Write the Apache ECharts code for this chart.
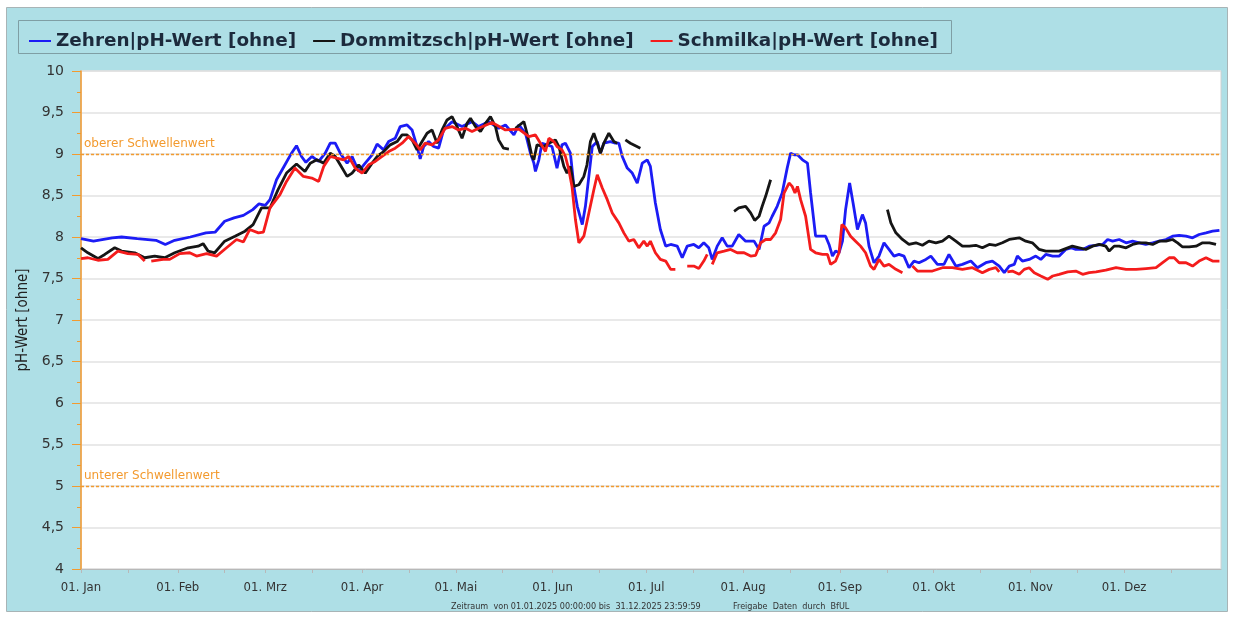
<!DOCTYPE html>
<html>
<head>
<meta charset="utf-8">
<script src="https://cdn.jsdelivr.net/npm/echarts@6/dist/echarts.min.js"></script>
<style>
  html, body { margin: 0; padding: 0; background: #ffffff; }
  #chart { width: 1233px; height: 619px; }
</style>
</head>
<body>
<div id="chart"></div>
<script>
// day of year 2025 (0 = 01. Jan), pH value; null = gap in measurement
const zehren = [[0,7.98],[4,7.95],[10,7.99],[13,8.0],[18,7.98],[24,7.96],[27,7.91],[30,7.96],[35,8.0],[40,8.05],[43,8.06],[46,8.19],[49,8.23],[52,8.26],[55,8.33],[57,8.4],[59,8.38],[60.5,8.45],[62.6,8.69],[65,8.85],[67.4,9.01],[69,9.1],[70.6,8.97],[72,8.9],[73.9,8.97],[76.1,8.91],[78.2,9.01],[79.8,9.13],[81.4,9.13],[83,9.01],[85.2,8.89],[86.8,8.97],[88.9,8.79],[91,8.89],[93.2,8.99],[94.8,9.12],[96.9,9.05],[98.5,9.15],[100.6,9.19],[102.2,9.33],[104.4,9.35],[106,9.29],[107.6,9.09],[108.6,8.94],[109.7,9.09],[111.3,9.15],[112.9,9.09],[114.5,9.07],[116.1,9.29],[118.8,9.39],[122,9.33],[125.2,9.39],[127.3,9.33],[130.5,9.39],[133.7,9.31],[135.9,9.35],[138.6,9.23],[140.2,9.35],[142.3,9.25],[143.9,9.01],[145,8.89],[145.5,8.79],[146.6,8.93],[147.6,9.13],[149.2,9.11],[150.8,9.09],[152.4,8.83],[154,9.11],[155.1,9.13],[156.7,9.01],[157.8,8.61],[158.9,8.37],[160.5,8.15],[161.5,8.37],[162.6,8.73],[163.7,9.09],[165.3,9.15],[166.3,9.01],[167.4,9.13],[169.5,9.15],[171.1,9.13],[172.2,9.13],[173.3,8.97],[174.9,8.83],[176.5,8.77],[178.1,8.65],[179.7,8.89],[181.3,8.93],[182.3,8.85],[183.9,8.41],[185.5,8.09],[187.2,7.89],[188.8,7.91],[190.9,7.89],[192.5,7.75],[194.1,7.89],[196.2,7.91],[197.8,7.87],[199.4,7.93],[201,7.87],[202.1,7.73],[203.7,7.89],[205.3,7.99],[206.9,7.89],[208.5,7.89],[210.6,8.03],[212.8,7.95],[215.5,7.95],[217.1,7.85],[218.7,8.13],[220.3,8.17],[221.3,8.25],[222.9,8.37],[224.5,8.53],[226.1,8.83],[227.2,9.01],[228.3,8.99],[229.4,8.99],[231,8.93],[232.6,8.89],[233.6,8.53],[235.2,8.01],[236.8,8.01],[238.4,8.01],[239.5,7.91],[240.6,7.77],[241.6,7.83],[242.7,7.81],[243.8,7.95],[244.8,8.33],[246.1,8.65],[247.2,8.41],[248.6,8.09],[250.2,8.27],[251.2,8.17],[252.3,7.89],[253.9,7.69],[255.5,7.77],[257.1,7.93],[258.7,7.85],[260.3,7.77],[261.9,7.79],[263.5,7.77],[265.1,7.63],[266.7,7.71],[268.3,7.69],[270.5,7.73],[272.1,7.77],[274.2,7.67],[276.3,7.67],[277.9,7.79],[280.1,7.65],[282.2,7.67],[284.9,7.71],[287,7.63],[289.7,7.69],[291.8,7.71],[294,7.65],[295.6,7.57],[297.2,7.65],[298.8,7.67],[299.8,7.77],[301.4,7.71],[303.6,7.73],[305.7,7.77],[307.3,7.73],[308.9,7.79],[311.1,7.77],[313.2,7.77],[315.3,7.85],[317,7.87],[318.5,7.85],[320.7,7.85],[322.8,7.89],[325,7.9],[327.1,7.91],[328.7,7.97],[330.3,7.95],[332.4,7.97],[334.6,7.93],[336.7,7.95],[338.8,7.93],[340.9,7.91],[343.1,7.93],[345.2,7.95],[347.4,7.97],[349.5,8.01],[351.6,8.02],[353.8,8.01],[355.9,7.99],[358,8.03],[360.2,8.05],[362.3,8.07],[364.5,8.08]];

const dommitzsch = [[0,7.87],[2.2,7.81],[5.4,7.74],[7.6,7.79],[10.8,7.87],[13,7.83],[17.2,7.81],[20.4,7.75],[23.6,7.77],[26.8,7.75],[30,7.81],[34.3,7.87],[37.5,7.89],[39.1,7.92],[40.7,7.83],[42.8,7.81],[46,7.95],[49.3,8.01],[52.5,8.07],[55.1,8.15],[57.8,8.35],[60.5,8.35],[63.1,8.57],[65.8,8.77],[69,8.88],[71.7,8.79],[73.4,8.89],[75.5,8.93],[77.7,8.89],[79.8,9.01],[81.4,8.97],[83,8.87],[85.2,8.73],[86.8,8.77],[88.9,8.87],[91,8.77],[93.2,8.89],[94.8,8.97],[96.9,9.03],[99,9.11],[101.2,9.15],[102.8,9.23],[104.4,9.23],[106,9.17],[107.6,9.05],[109.2,9.15],[110.8,9.25],[112.4,9.29],[114,9.13],[115.6,9.29],[117.2,9.41],[118.8,9.45],[120.4,9.33],[122,9.19],[123.6,9.37],[124.7,9.43],[126.3,9.33],[127.9,9.27],[129.5,9.37],[131.1,9.45],[132.7,9.33],[133.7,9.17],[135.3,9.07],[137,9.06],[138,null],[139.1,9.31],[141.8,9.39],[142.8,9.25],[144.4,8.97],[145,8.93],[146,9.11],[148.2,9.09],[149.8,9.13],[151.9,9.17],[153,9.09],[154.6,8.85],[155.6,8.77],[156.7,8.85],[157.8,8.61],[159.4,8.63],[161,8.73],[162,8.87],[163.1,9.15],[164.2,9.25],[165.3,9.13],[166.3,9.01],[167.4,9.13],[169,9.25],[170.6,9.15],[171.7,9.13],[173,null],[174.3,9.17],[175.9,9.13],[177.5,9.1],[179.1,9.07],[190,null],[209.1,8.31],[210.6,8.35],[212.8,8.37],[214.4,8.29],[215.7,8.2],[217.1,8.25],[218.1,8.37],[219.2,8.49],[220.8,8.69],[230,null],[258.2,8.33],[259.3,8.17],[260.9,8.05],[263,7.97],[265.1,7.91],[267.3,7.93],[269.4,7.9],[271.5,7.95],[273.7,7.93],[275.8,7.95],[277.9,8.01],[280.1,7.95],[282.2,7.89],[284.4,7.89],[286.5,7.9],[288.6,7.87],[290.8,7.91],[292.9,7.9],[295,7.93],[297.2,7.97],[300.4,7.99],[302.5,7.95],[304.6,7.93],[306.8,7.85],[308.9,7.83],[311.1,7.83],[313.2,7.83],[315.3,7.86],[317.4,7.89],[319.6,7.87],[321.7,7.85],[323.9,7.89],[326,7.91],[328.1,7.89],[329.2,7.83],[330.8,7.89],[332.4,7.89],[334.6,7.87],[336.7,7.91],[338.8,7.93],[340.9,7.93],[343.1,7.91],[345.2,7.95],[347.4,7.95],[349.5,7.97],[351.1,7.93],[352.7,7.88],[354.8,7.88],[357,7.89],[359.1,7.93],[361.3,7.93],[363.4,7.91]];

const schmilka = [[0,7.74],[2.2,7.75],[5.4,7.72],[8.6,7.73],[11.8,7.83],[15,7.8],[18.3,7.79],[20.4,7.71],[21.4,null],[22.5,7.71],[26.3,7.73],[28.4,7.73],[31.6,7.8],[34.8,7.81],[37,7.77],[40.2,7.8],[43.4,7.77],[46.6,7.87],[49.8,7.97],[52,7.94],[54,8.09],[56.8,8.05],[58.4,8.06],[60.5,8.35],[63.7,8.51],[65.8,8.67],[68.5,8.83],[71.2,8.73],[73.9,8.71],[76.1,8.67],[77.7,8.85],[79.8,8.97],[81.9,8.95],[84.1,8.93],[85.7,8.97],[87.8,8.83],[90,8.77],[92.1,8.87],[94.2,8.91],[96.4,8.97],[98.5,9.03],[100.6,9.07],[102.8,9.13],[104.9,9.21],[107,9.13],[108.6,9.05],[110.2,9.13],[112.4,9.11],[114.5,9.17],[116.6,9.31],[118.8,9.33],[120.9,9.29],[123.1,9.31],[125.2,9.27],[127.3,9.31],[131.6,9.38],[135.9,9.29],[140.2,9.3],[143.4,9.21],[145.5,9.23],[147.1,9.13],[148.7,9.03],[149.8,9.19],[151.4,9.15],[152.4,9.09],[154,9.05],[155.1,8.97],[156.2,8.81],[157.2,8.61],[158.3,8.21],[159.4,7.93],[161,8.01],[162.6,8.29],[164.2,8.57],[165.3,8.75],[166.9,8.59],[168.5,8.45],[170.1,8.29],[172.2,8.17],[173.8,8.05],[175.4,7.95],[177,7.97],[178.6,7.87],[180.2,7.95],[181.3,7.89],[182.3,7.95],[183.9,7.81],[185.5,7.73],[187.2,7.71],[188.8,7.61],[190.3,7.61],[192,null],[194.1,7.65],[196.2,7.65],[197.8,7.62],[199.4,7.71],[200.5,7.79],[201.3,null],[202.1,7.67],[203.7,7.81],[205.9,7.83],[208,7.85],[210.1,7.81],[212.3,7.81],[214.4,7.77],[216,7.78],[217.6,7.93],[219.2,7.97],[220.8,7.97],[222.4,8.05],[224,8.21],[225.1,8.53],[226.7,8.65],[227.7,8.61],[228.6,8.53],[229.4,8.61],[230.4,8.45],[232,8.25],[233.6,7.85],[235.2,7.81],[237.4,7.79],[239,7.79],[240,7.67],[241.6,7.71],[242.7,7.81],[243.6,8.15],[244.8,8.11],[246.4,8.01],[248,7.95],[249.6,7.89],[251.2,7.81],[252.8,7.65],[253.9,7.61],[255.5,7.73],[257.1,7.65],[258.7,7.67],[260.9,7.61],[263,7.57],[264.5,null],[266.2,7.65],[267.8,7.59],[269.4,7.59],[272.6,7.59],[275.8,7.63],[279,7.63],[282.2,7.61],[285.4,7.63],[288.6,7.57],[290.8,7.61],[292.9,7.63],[294,7.58],[295.2,null],[296.6,7.58],[298.2,7.59],[300.4,7.55],[302,7.61],[303.6,7.63],[305.2,7.57],[307.3,7.53],[309.5,7.49],[311.1,7.53],[313.2,7.55],[315.9,7.58],[318.5,7.59],[320.7,7.55],[322.8,7.57],[325,7.58],[328.1,7.6],[331.4,7.63],[334.6,7.61],[337.8,7.61],[341,7.62],[344.2,7.63],[346.3,7.69],[348.4,7.75],[350,7.75],[351.6,7.69],[353.8,7.69],[355.9,7.65],[358,7.71],[360.2,7.75],[362.3,7.71],[364.5,7.71]];

const monthStarts = [0, 31, 59, 90, 120, 151, 181, 212, 243, 273, 304, 334];
const monthLabels = ['01. Jan', '01. Feb', '01. Mrz', '01. Apr', '01. Mai', '01. Jun',
  '01. Jul', '01. Aug', '01. Sep', '01. Okt', '01. Nov', '01. Dez'];
const thresholds = [
  { value: 9, name: 'oberer Schwellenwert' },
  { value: 5, name: 'unterer Schwellenwert' }
];

const orange = '#f39a2e';
const tickDays = [];
monthStarts.forEach(d => { tickDays.push(d, d + 15); });

const chart = echarts.init(document.getElementById('chart'));

const seriesLine = (name, data, color) => ({
  name: name,
  type: 'line',
  data: data,
  showSymbol: false,
  connectNulls: false,
  lineStyle: { color: color, width: 2.8 },
  itemStyle: { color: color },
  z: 3
});

const threshLine = { color: orange, type: [3, 2], width: 1.4 };

const zehrenSeries = seriesLine('Zehren|pH-Wert [ohne]', zehren, '#1c1cf5');
zehrenSeries.markLine = {
  silent: true,
  symbol: 'none',
  z: 5,
  lineStyle: threshLine,
  label: {
    position: 'insideStartTop',
    color: orange,
    fontSize: 12,
    fontFamily: 'DejaVu Sans',
    distance: [3, 4]
  },
  data: thresholds.map(t => ({
    yAxis: t.value,
    lineStyle: threshLine,
    label: { formatter: t.name }
  }))
};

chart.setOption({
  backgroundColor: '#ffffff',
  animation: false,
  graphic: [
    {
      type: 'rect',
      shape: { x: 6.5, y: 7.5, width: 1221, height: 604 },
      style: { fill: '#aedfe6', stroke: '#a8b4b6', lineWidth: 1 },
      z: -10
    },
    {
      type: 'rect',
      shape: { x: 18.5, y: 20.5, width: 933, height: 33 },
      style: { fill: '#aedfe6', stroke: '#7f9ea4', lineWidth: 1 },
      z: -9
    },
    {
      type: 'text',
      left: 451,
      top: 602,
      style: {
        text: 'Zeitraum  von 01.01.2025 00:00:00 bis  31.12.2025 23:59:59',
        fill: '#333',
        font: '9px "DejaVu Sans Condensed"'
      }
    },
    {
      type: 'text',
      left: 733,
      top: 602,
      style: {
        text: 'Freigabe  Daten  durch  BfUL',
        fill: '#333',
        font: '9px "DejaVu Sans Condensed"'
      }
    }
  ],
  legend: {
    left: 24,
    top: 27,
    itemWidth: 22,
    itemHeight: 2,
    itemGap: 17,
    icon: 'rect',
    textStyle: {
      color: '#1c2a3c',
      fontSize: 18.4,
      fontWeight: 'bold',
      fontFamily: 'DejaVu Sans'
    }
  },
  grid: {
    left: 81,
    right: 12,
    top: 71,
    bottom: 50,
    show: true,
    backgroundColor: '#ffffff',
    borderColor: '#d0d0d0',
    borderWidth: 1
  },
  xAxis: {
    type: 'value',
    min: 0,
    max: 365,
    axisLine: { lineStyle: { color: '#b8b8b8' } },
    axisTick: { customValues: tickDays, length: 4, lineStyle: { color: '#b8b8b8' } },
    splitLine: { show: false },
    axisLabel: {
      customValues: monthStarts,
      formatter: v => monthLabels[monthStarts.indexOf(v)],
      color: '#333',
      fontSize: 13,
      fontFamily: 'DejaVu Sans Condensed',
      margin: 12
    }
  },
  yAxis: {
    type: 'value',
    min: 4,
    max: 10,
    interval: 0.5,
    name: 'pH-Wert [ohne]',
    nameLocation: 'middle',
    nameGap: 42,
    nameTextStyle: { color: '#222', fontSize: 15, fontFamily: 'DejaVu Sans Condensed' },
    axisLine: { show: true, lineStyle: { color: orange, width: 1.5 } },
    axisTick: { show: true, length: 9, lineStyle: { color: orange } },
    minorTick: { show: true, splitNumber: 2, length: 4, lineStyle: { color: orange } },
    splitLine: { lineStyle: { color: '#e2e2e2', width: 1.5 } },
    axisLabel: {
      formatter: v => String(v).replace('.', ','),
      color: '#333',
      fontSize: 14,
      fontFamily: 'DejaVu Sans',
      margin: 17
    }
  },
  series: [
    zehrenSeries,
    seriesLine('Dommitzsch|pH-Wert [ohne]', dommitzsch, '#151515'),
    seriesLine('Schmilka|pH-Wert [ohne]', schmilka, '#f41c1c')
  ]
});
</script>
</body>
</html>
